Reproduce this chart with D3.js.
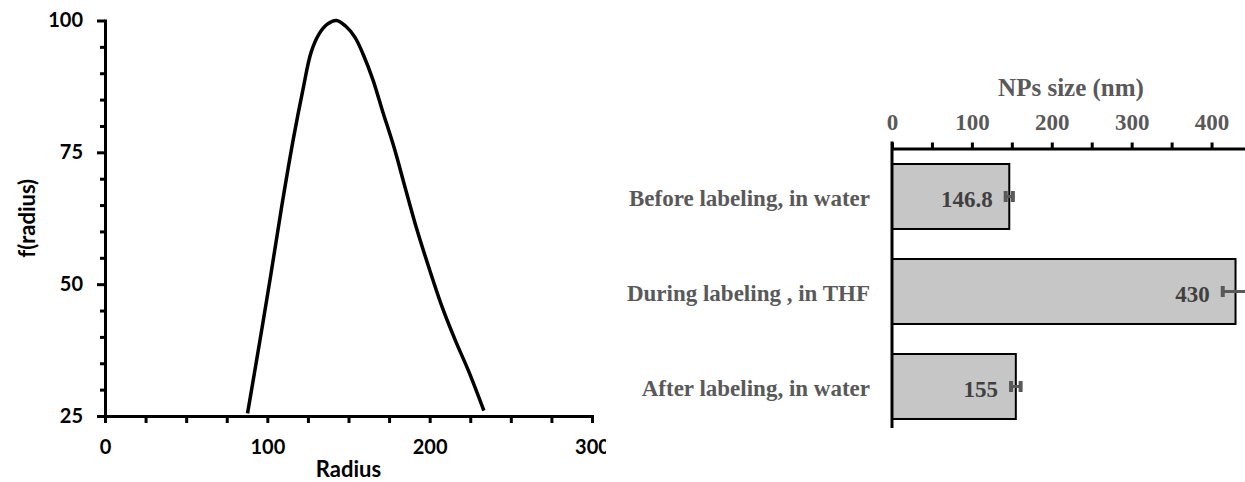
<!DOCTYPE html>
<html>
<head>
<meta charset="utf-8">
<script src="https://cdn.jsdelivr.net/npm/d3@7"></script>
<style>
  html, body { margin: 0; padding: 0; background: #fff; }
  svg { display: block; }
</style>
</head>
<body>
<svg id="chart" width="1245" height="482"></svg>
<script>
// Size distribution curve: radius (nm) vs f(radius)
const radius = [87.8, 95, 102, 109, 116, 122, 127, 132, 137, 142.5, 148, 154, 159, 165, 171, 178, 185, 192, 200, 208, 216, 224, 233.4];
const fRadius = [25.5, 38.5, 51.5, 65.0, 77.5, 87.0, 94.0, 97.5, 99.3, 100.0, 99.0, 96.8, 93.6, 88.8, 82.8, 76.0, 68.2, 60.5, 52.7, 45.4, 39.2, 33.5, 26.0];
const radiusTicks = [0, 100, 200, 300];
const fTicks = [25, 50, 75, 100];

// Nanoparticle size at each labeling stage
const stages = ["Before labeling, in water", "During labeling , in THF", "After labeling, in water"];
const sizes = [146.8, 430, 155];
const sizeErrors = [4.5, 16, 6];
const sizeTicks = [0, 100, 200, 300, 400];

const svg = d3.select("#chart");

/* ---------- left panel: distribution curve ---------- */
svg.append("defs").append("clipPath").attr("id", "leftClip")
  .append("rect").attr("x", 0).attr("y", 0).attr("width", 606).attr("height", 482);

const left = svg.append("g").attr("clip-path", "url(#leftClip)");
const sansFont = "Lato, 'Open Sans', sans-serif";

const x1 = d3.scaleLinear().domain([0, 300]).range([105, 592]);
const y1 = d3.scaleLinear().domain([25, 100]).range([416, 20.5]);

const xAxis1 = d3.axisBottom(x1)
  .tickValues(d3.range(0, 301, 25))
  .tickSize(7).tickSizeOuter(0).tickPadding(17)
  .tickFormat(d => radiusTicks.includes(d) ? d : "");
const gx1 = left.append("g").attr("transform", `translate(0,${y1(25)})`).call(xAxis1);

const yAxis1 = d3.axisLeft(y1)
  .tickValues(d3.range(25, 101, 5))
  .tickSize(8).tickSizeOuter(0).tickPadding(14)
  .tickFormat(d => fTicks.includes(d) ? d : "");
const gy1 = left.append("g").attr("transform", `translate(${x1(0)},0)`).call(yAxis1);
gy1.selectAll(".tick").filter(d => !fTicks.includes(d)).select("line").attr("x2", -5);

[gx1, gy1].forEach(g => {
  g.select(".domain").attr("stroke", "#000").attr("stroke-width", 3).attr("stroke-linecap", "square");
  g.selectAll(".tick line").attr("stroke", "#000").attr("stroke-width", 3);
  g.selectAll(".tick text").attr("fill", "#000")
    .style("font-family", sansFont).style("font-weight", 700).style("font-size", "20px");
});

const curve = d3.line()
  .x((d, i) => x1(radius[i]))
  .y((d, i) => y1(fRadius[i]))
  .curve(d3.curveCatmullRom.alpha(0.5));
left.append("path")
  .datum(radius)
  .attr("d", curve)
  .attr("fill", "none")
  .attr("stroke", "#000")
  .attr("stroke-width", 3.5)
  .attr("stroke-linejoin", "round");

left.append("text")
  .attr("x", (x1.range()[0] + x1.range()[1]) / 2)
  .attr("y", 477)
  .attr("text-anchor", "middle")
  .style("font-family", sansFont).style("font-weight", 700).style("font-size", "22px")
  .text("Radius");

left.append("text")
  .attr("transform", `translate(35,${(y1.range()[0] + y1.range()[1]) / 2}) rotate(-90)`)
  .attr("text-anchor", "middle")
  .style("font-family", sansFont).style("font-weight", 700).style("font-size", "22px")
  .text("f(radius)");

/* ---------- right panel: NPs size bars ---------- */
const serifFont = "'Liberation Serif', 'Times New Roman', serif";
const grey = "#595959";

const x2 = d3.scaleLinear().domain([0, 450]).range([892, 1251.5]);
const y2 = d3.scaleBand().domain(stages).range([149, 434])
  .paddingInner(0.316).paddingOuter(0.158);

const right = svg.append("g");

const xAxis2 = d3.axisTop(x2)
  .tickValues(d3.range(0, 451, 50))
  .tickSize(6).tickSizeOuter(0).tickPadding(13)
  .tickFormat(d => sizeTicks.includes(d) ? d : "");
const gx2 = right.append("g").attr("transform", "translate(0,148.5)").call(xAxis2);
gx2.select(".domain").attr("stroke", "#000").attr("stroke-width", 3);
gx2.selectAll(".tick line").attr("stroke", "#000").attr("stroke-width", 3);
gx2.selectAll(".tick text").attr("fill", grey)
  .style("font-family", serifFont).style("font-weight", 700).style("font-size", "23px");

right.append("text")
  .attr("x", 1071).attr("y", 96)
  .attr("text-anchor", "middle")
  .attr("fill", grey)
  .style("font-family", serifFont).style("font-weight", 700).style("font-size", "25px")
  .text("NPs size (nm)");

const bars = right.selectAll("g.bar").data(stages).join("g").attr("class", "bar");

bars.append("rect")
  .attr("x", x2(0))
  .attr("y", d => y2(d))
  .attr("width", (d, i) => x2(sizes[i]) - x2(0))
  .attr("height", y2.bandwidth())
  .attr("fill", "#c6c6c6")
  .attr("stroke", "#000")
  .attr("stroke-width", 2);

const cy = d => y2(d) + y2.bandwidth() / 2;

// error bars
bars.append("line")
  .attr("x1", (d, i) => x2(sizes[i] - sizeErrors[i]))
  .attr("x2", (d, i) => x2(sizes[i] + sizeErrors[i]))
  .attr("y1", cy).attr("y2", cy)
  .attr("stroke", grey).attr("stroke-width", 3);
[-1, 1].forEach(s => {
  bars.append("line")
    .attr("x1", (d, i) => x2(sizes[i] + s * sizeErrors[i]))
    .attr("x2", (d, i) => x2(sizes[i] + s * sizeErrors[i]))
    .attr("y1", d => cy(d) - 5.5).attr("y2", d => cy(d) + 5.5)
    .attr("stroke", grey).attr("stroke-width", 4);
});

// value labels
bars.append("text")
  .attr("x", (d, i) => x2(sizes[i] - sizeErrors[i]) - 13)
  .attr("y", d => cy(d) + 10)
  .attr("text-anchor", "end")
  .attr("fill", "#404040")
  .style("font-family", serifFont).style("font-weight", 700).style("font-size", "23px")
  .text((d, i) => sizes[i]);

// category labels
const yAxis2 = d3.axisLeft(y2).tickSize(0).tickPadding(22);
const gy2 = right.append("g").attr("transform", `translate(${x2(0)},0)`).call(yAxis2);
gy2.select(".domain").remove();
gy2.selectAll(".tick text").attr("fill", grey).attr("dy", "0.4em")
  .style("font-family", serifFont).style("font-weight", 700).style("font-size", "23px");

right.append("line")
  .attr("x1", x2(0)).attr("x2", x2(0))
  .attr("y1", 141.5).attr("y2", 428)
  .attr("stroke", "#000").attr("stroke-width", 3);
</script>
</body>
</html>
